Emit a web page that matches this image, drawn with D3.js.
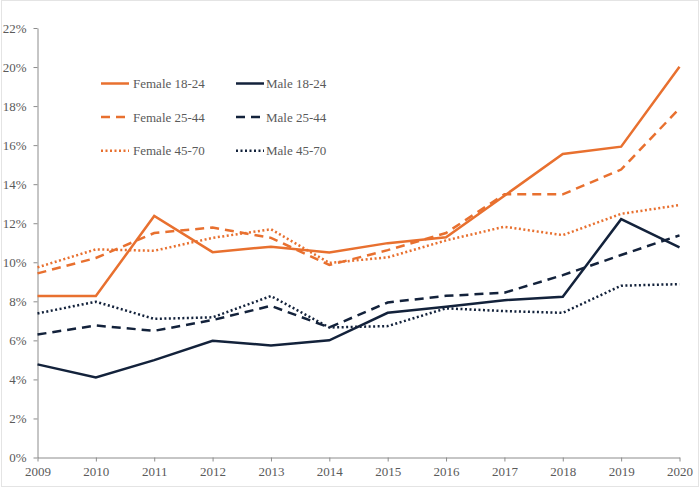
<!DOCTYPE html>
<html>
<head>
<meta charset="utf-8">
<script src="https://cdn.jsdelivr.net/npm/d3@7"></script>
<style>
	body { margin: 0; background: #fff; }
	svg text { font-family: "Times New Roman", "Liberation Serif", "DejaVu Serif", serif; }
</style>
</head>
<body>
<svg id="chart"></svg>
<script>
const years = [2009, 2010, 2011, 2012, 2013, 2014, 2015, 2016, 2017, 2018, 2019, 2020];

// percentages
const female18to24 = [8.27, 8.27, 12.37, 10.52, 10.8, 10.5, 10.98, 11.28, 13.41, 15.55, 15.92, 20.02];
const female25to44 = [9.43, 10.22, 11.5, 11.78, 11.25, 9.86, 10.62, 11.5, 13.48, 13.48, 14.75, 17.88];
const female45to70 = [9.74, 10.66, 10.59, 11.25, 11.69, 9.97, 10.25, 11.12, 11.82, 11.39, 12.48, 12.93];
const male18to24 = [4.77, 4.1, 4.99, 5.98, 5.74, 6.0, 7.41, 7.72, 8.06, 8.23, 12.21, 10.76];
const male25to44 = [6.3, 6.76, 6.49, 7.04, 7.77, 6.66, 7.94, 8.28, 8.44, 9.34, 10.37, 11.38];
const male45to70 = [7.38, 7.98, 7.1, 7.18, 8.27, 6.66, 6.73, 7.64, 7.5, 7.41, 8.8, 8.88];

const yTicks = [0, 2, 4, 6, 8, 10, 12, 14, 16, 18, 20, 22];

const orange = '#e8702f';
const navy = '#13223b';

const series = [
	{ name: 'Female 18-24', values: female18to24, color: orange, dash: null },
	{ name: 'Male 18-24', values: male18to24, color: navy, dash: null },
	{ name: 'Female 25-44', values: female25to44, color: orange, dash: '9,6' },
	{ name: 'Male 25-44', values: male25to44, color: navy, dash: '9,6' },
	{ name: 'Female 45-70', values: female45to70, color: orange, dash: '2,2.5' },
	{ name: 'Male 45-70', values: male45to70, color: navy, dash: '2,2.5' },
];

const width = 700;
const height = 488;
const marginTop = 28;
const marginRight = 20.5;
const marginBottom = 30.5;
const marginLeft = 37.5;
const serif = '"Times New Roman", "Liberation Serif", serif';

const svg = d3.select('#chart').attr('width', width).attr('height', height);

// faint frame round the picture
svg.append('rect')
	.attr('x', 1.5).attr('y', 0.5)
	.attr('width', width - 3).attr('height', height - 2)
	.attr('fill', 'none')
	.attr('stroke', '#e4e4e4');

const x = d3.scaleLinear()
	.domain(d3.extent(years))
	.range([marginLeft, width - marginRight]);

const y = d3.scaleLinear()
	.domain([0, 22])
	.range([height - marginBottom, marginTop]);

const axisColor = '#8c8c8c';
const textColor = '#5a5a5a';

// y axis
const yAxis = svg.append('g')
	.attr('transform', `translate(${marginLeft},0)`)
	.call(d3.axisLeft(y).tickValues(yTicks).tickFormat(d => d + '%').tickSize(4).tickPadding(7).tickSizeOuter(0));

// x axis
const xAxis = svg.append('g')
	.attr('transform', `translate(0,${height - marginBottom})`)
	.call(d3.axisBottom(x).tickValues(years).tickFormat(d3.format('d')).tickSize(4).tickPadding(5).tickSizeOuter(0));

for (const g of [yAxis, xAxis]) {
	g.attr('font-family', serif).attr('font-size', 13);
	g.selectAll('.domain, line').attr('stroke', axisColor).attr('stroke-width', 1);
	g.selectAll('text').attr('fill', textColor);
}

const line = d3.line()
	.x((d, i) => x(years[i]))
	.y(d => y(d));

svg.append('g')
	.selectAll('path')
	.data(series)
	.join('path')
	.attr('d', d => line(d.values))
	.attr('fill', 'none')
	.attr('stroke', d => d.color)
	.attr('stroke-width', 2.5)
	.attr('stroke-dasharray', d => d.dash)
	.attr('stroke-linejoin', 'miter');

// legend, two columns
const legend = svg.append('g')
	.attr('font-family', serif)
	.attr('font-size', 13)
	.selectAll('g')
	.data(series)
	.join('g')
	.attr('transform', (d, i) => `translate(${i % 2 === 0 ? 101 : 236},${83.5 + Math.floor(i / 2) * 33.6})`);

legend.append('line')
	.attr('x1', 0).attr('x2', 28)
	.attr('stroke', d => d.color)
	.attr('stroke-width', 2.5)
	.attr('stroke-dasharray', d => d.dash);

legend.append('text')
	.attr('x', (d, i) => (i % 2 === 0 ? 32 : 30))
	.attr('dy', '0.34em')
	.attr('fill', textColor)
	.text(d => d.name);
</script>
</body>
</html>
